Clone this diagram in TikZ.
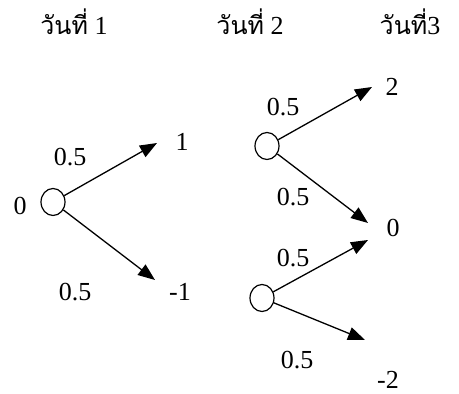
\documentclass[tikz,border=0pt]{standalone}
\usepackage{fontspec}
\setmainfont{Liberation Serif}
\newfontfamily\thaifont[Script=Thai]{Loma}
\usetikzlibrary{arrows.meta,positioning,shapes.geometric}

\begin{document}
\begin{tikzpicture}[x=0.5pt,y=-0.5pt,
    every node/.style={font=\fontsize{13}{15}\selectfont},
    state/.style={draw,ellipse,minimum width=12pt,minimum height=13.5pt,inner sep=0pt,line width=0.6pt},
    branch/.style={line width=0.65pt,-{Triangle[length=8.5pt,width=6.5pt]}}]
    \useasboundingbox (0,0) rectangle (459,394);
    % day headings
    \node (day1) at (74,22) {{\thaifont\fontsize{12.5}{15}\selectfont วันที่} 1};
    \node (day2) at (250,22) {{\thaifont\fontsize{12.5}{15}\selectfont วันที่} 2};
    \node (day3) at (410,22) {{\thaifont\fontsize{12.5}{15}\selectfont วันที่}3};
    % states
    \node[state] (s0) at (53,202) {};
    \node[state] (su) at (267,146) {};
    \node[state] (sd) at (262,298) {};
    \node (v0) at (20,206) {0};
    % arrow tips
    \coordinate (t1) at (157,143);
    \coordinate (t2) at (155,280);
    \coordinate (t3) at (372,87);
    \coordinate (t4) at (368,223);
    \coordinate (t5) at (368,240);
    \coordinate (t6) at (365,340);
    \foreach \s/\t in {s0/t1,s0/t2,su/t3,su/t4,sd/t5,sd/t6}
    {
        \draw[branch] (\s) -- (\t);
    }
    % values
    \node (v1) at (182,142) {1};
    \node (vm1) at (180,292) {-1};
    \node (v2) at (392,87) {2};
    \node (vz) at (393,228) {0};
    \node[inner sep=0pt] (vm2) at (388,380) {-2};
    % probabilities
    \foreach \x/\y [count=\i] in {70/157,75/292,283/107,293/197,293/258,297/360}
    {
        \node (p\i) at (\x,\y) {0.5};
    }
\end{tikzpicture}
\end{document}
